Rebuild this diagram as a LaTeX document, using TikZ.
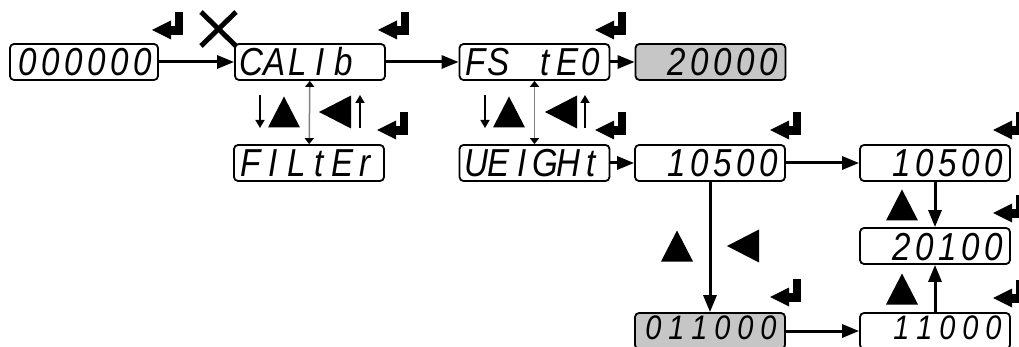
\documentclass[tikz,border=0pt]{standalone}
\usepackage{fontspec}
\usepackage{graphicx}
\usetikzlibrary{arrows.meta}
\newfontfamily\segfont{Liberation Sans}
\definecolor{boxgray}{RGB}{198,198,198}
\definecolor{midgray}{RGB}{128,128,128}
\newcommand\segslots[1]{\sgloop#1\relax}
\def\sgloop#1{\ifx#1\relax\else\makebox[23pt][c]{\scalebox{0.85}[1]{#1}}\expandafter\sgloop\fi}
\newcommand\dispR[1]{\makebox[140pt][r]{\segslots{#1}}}
\newcommand\dispL[1]{\makebox[140pt][l]{\segslots{#1}}}
\tikzset{
  disp/.style={draw, line width=1.8pt, rounded corners=4pt, minimum width=150pt,
    minimum height=36pt, inner sep=0pt, text height=28pt, text depth=0pt,
    font=\segfont\itshape\fontsize{39pt}{39pt}\selectfont},
  dispgray/.style={disp, fill=boxgray},
  lowrow/.style={text height=24pt, text depth=8pt,
    font=\segfont\itshape\fontsize{34pt}{34pt}\selectfont},
  flow/.style={line width=3pt, -{Triangle[length=17pt,width=13pt]}},
  thinarrow/.style={line width=1.5pt, -{Triangle[length=8pt,width=9pt]}},
  grayline/.style={draw=midgray, line width=1.5pt,
    {Triangle[length=6pt,width=9pt,black]}-{Triangle[length=6pt,width=9pt,black]}},
  enterkey/.pic={\fill (0,0) -- (19,-9.5) -- (19,9.5) -- cycle;
    \fill (17,-4) rectangle (31,5); \fill (23,5) rectangle (31,-18);},
  uptri/.pic={\fill (-16,15.5) -- (16,15.5) -- (0,-15.5) -- cycle;},
  lefttri/.pic={\fill (16,-16.5) -- (16,16.5) -- (-16,0) -- cycle;},
}
\begin{document}
\begin{tikzpicture}[x=1pt,y=-1pt]
\useasboundingbox (0,0) rectangle (1019,347);
\clip (0,0) rectangle (1019,347);
% display boxes
\node[disp, minimum width=148pt] (A) at (84,62) {\dispR{000000}};
\node[disp] (B) at (310,62) {\dispL{CALIb}};
\node[disp] (C) at (534.5,62) {\dispL{FS~tE0}};
\node[dispgray] (D) at (710.5,62) {\dispR{20000}};
\node[disp] (E) at (309,163) {\dispL{FILtEr}};
\node[disp] (F) at (534.5,163) {\dispL{UEIGHt}};
\node[disp] (G) at (710,163) {\dispR{10500}};
\node[disp] (H) at (935,163) {\dispR{10500}};
\node[disp] (I) at (935,246) {\dispR{20100}};
\node[dispgray, lowrow] (J) at (710,331) {\dispR{011000}};
\node[disp, lowrow] (K) at (935,331) {\dispR{11000}};
% main flow
\draw[flow] (A) -- (B);
\draw[flow] (B) -- (C);
\draw[flow] (C) -- (D);
\draw[flow] (F) -- (G);
\draw[flow] (G) -- (H);
\draw[flow] (G) -- (J);
\draw[flow] (J) -- (K);
\draw[flow] (H) -- (I);
\draw[flow] (K) -- (I);
% menu navigation
\draw[grayline] (B) -- (E);
\draw[grayline] (C) -- (F);
\coordinate (d1a) at (260,95); \coordinate (d1b) at (260,128);
\coordinate (u1a) at (360,128); \coordinate (u1b) at (360,95);
\coordinate (d2a) at (485,95); \coordinate (d2b) at (485,128);
\coordinate (u2a) at (585,128); \coordinate (u2b) at (585,95);
\draw[thinarrow] (d1a) -- (d1b);
\draw[thinarrow] (u1a) -- (u1b);
\draw[thinarrow] (d2a) -- (d2b);
\draw[thinarrow] (u2a) -- (u2b);
% key symbols
\pic at (284,112) {uptri};
\pic at (335,112) {lefttri};
\pic at (509,112) {uptri};
\pic at (561,112) {lefttri};
\pic at (677,246) {uptri};
\pic at (743,246) {lefttri};
\pic at (902,205) {uptri};
\pic at (902,289) {uptri};
\pic at (152,30) {enterkey};
\pic at (378,30) {enterkey};
\pic at (595,30) {enterkey};
\pic at (377,130) {enterkey};
\pic at (595,130) {enterkey};
\pic at (770,130) {enterkey};
\pic at (770,297) {enterkey};
\pic at (993,130) {enterkey};
\pic at (993,213) {enterkey};
\pic at (993,298) {enterkey};
% cancel cross
\draw[line width=5pt] (201,12) -- (236,46);
\draw[line width=5pt] (201,46) -- (236,12);
\end{tikzpicture}
\end{document}
